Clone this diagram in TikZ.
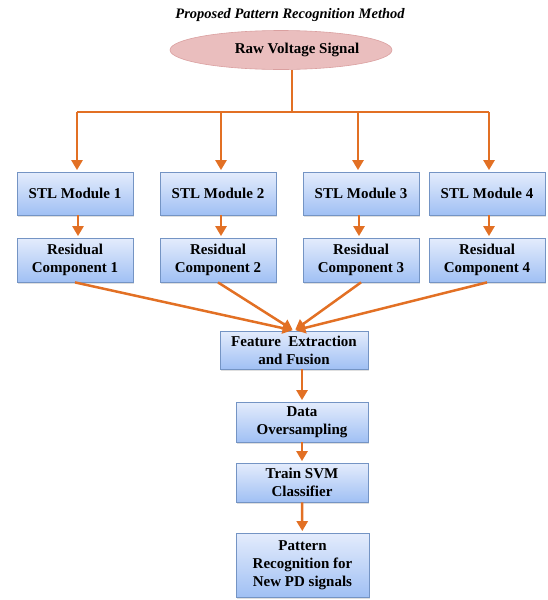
\documentclass[tikz,border=0pt]{standalone}
\usepackage{fontspec}
\setmainfont{Liberation Serif}
\usetikzlibrary{positioning,shapes.geometric,arrows.meta,shadows}
\definecolor{arrorange}{RGB}{226,112,36}
\definecolor{boxtop}{RGB}{228,236,252}
\definecolor{boxbot}{RGB}{160,192,244}
\definecolor{boxline}{RGB}{116,148,196}
\definecolor{rawfill}{RGB}{234,190,190}
\definecolor{rawline}{RGB}{218,160,160}
\begin{document}
\begin{tikzpicture} [x=1pt, y=-1pt,
  font=\fontsize{15}{18}\selectfont\bfseries,
  boxnode/.style={draw=boxline, line width=0.8pt, top color=boxtop, bottom color=boxbot,
    align=center, inner sep=0pt, minimum width=116pt, minimum height=43pt,
    drop shadow={opacity=0.25, shadow xshift=1pt, shadow yshift=-1.5pt}},
  flow/.style={draw=arrorange, line width=2.5pt, -{Triangle[width=11pt,length=10pt]}, shorten >=1.5pt},
  trunk/.style={draw=arrorange, line width=2.5pt}]
\useasboundingbox (0,0) rectangle (548,600);
\node [font=\fontsize{14.5}{17}\selectfont\bfseries\itshape] (title) at (290,15) {Proposed Pattern Recognition Method};
\node [ellipse, draw=rawline, fill=rawfill, line width=0.6pt, minimum width=222pt, minimum height=39pt, inner sep=0pt] (raw) at (281,50) {\hspace*{32pt}Raw Voltage Signal};
\coordinate (fork) at (292,112);
\coordinate (forkL) at (77,112);
\coordinate (forkR) at (489,112);
\node [boxnode] (stl1) at (75,193.5) {STL Module 1};
\node [boxnode] (stl2) at (218,193.5) {STL Module 2};
\node [boxnode] (stl3) at (361,193.5) {STL Module 3};
\node [boxnode] (stl4) at (487,193.5) {STL Module 4};
\node [boxnode, minimum height=44pt] (res1) at (75,260) {Residual\\Component 1};
\node [boxnode, minimum height=44pt] (res2) at (218,260) {Residual\\Component 2};
\node [boxnode, minimum height=44pt] (res3) at (361,260) {Residual\\Component 3};
\node [boxnode, minimum height=44pt] (res4) at (487,260) {Residual\\Component 4};
\node [boxnode, minimum width=148pt, minimum height=38pt] (feat) at (294,350) {Feature\ \ Extraction\\and Fusion};
\node [boxnode, minimum width=132pt, minimum height=40pt] (data) at (302,422) {Data\\Oversampling};
\node [boxnode, minimum width=132pt, minimum height=39pt] (svm) at (302,482.5) {Train SVM\\Classifier};
\node [boxnode, minimum width=133pt, minimum height=64pt] (recog) at (302.5,565) {Pattern\\Recognition for\\New PD signals};
\draw[trunk] (fork |- raw.south) -- (fork);
\draw[trunk] (forkL) -- (forkR);
\draw[flow] (forkL) -- (forkL |- stl1.north);
\draw[flow] ([xshift=3pt]stl2.north |- fork) -- ([xshift=3pt]stl2.north);
\draw[flow] ([xshift=-3pt]stl3.north |- fork) -- ([xshift=-3pt]stl3.north);
\draw[flow] (forkR) -- (forkR |- stl4.north);
\draw[flow] ([xshift=3pt]stl1.south) -- ([xshift=3pt]res1.north);
\draw[flow] ([xshift=3pt]stl2.south) -- ([xshift=3pt]res2.north);
\draw[flow] ([xshift=-2pt]stl3.south) -- ([xshift=-2pt]res3.north);
\draw[flow] ([xshift=2pt]stl4.south) -- ([xshift=2pt]res4.north);
\draw[flow] (res1.south) -- (feat.north);
\draw[flow] (res2.south) -- (feat.north);
\draw[flow] (res3.south) -- (feat.north);
\draw[flow] (res4.south) -- (feat.north);
\draw[flow] (data.north |- feat.south) -- (data.north);
\draw[flow] (data) -- (svm);
\draw[flow] (svm) -- (recog);
\end{tikzpicture}
\end{document}
